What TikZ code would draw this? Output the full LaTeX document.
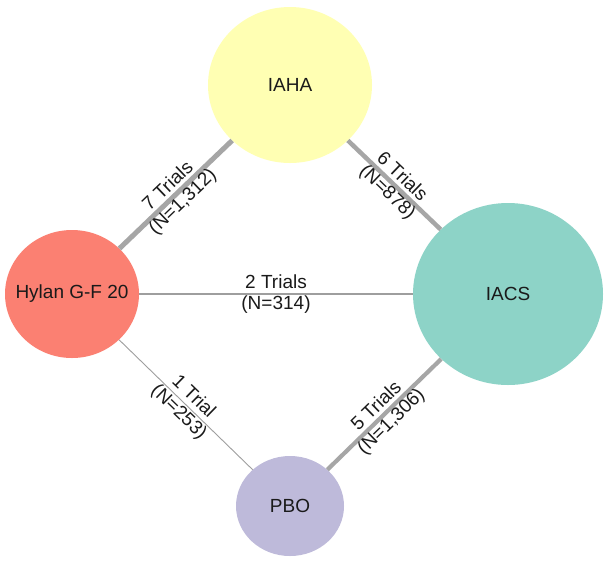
\documentclass[tikz,border=0pt]{standalone}
\usepackage{fontspec}
\setmainfont{Liberation Sans}
\usetikzlibrary{shapes.geometric}
\definecolor{cIAHA}{HTML}{FFFFB3}
\definecolor{cHylan}{HTML}{FB8072}
\definecolor{cIACS}{HTML}{8DD3C7}
\definecolor{cPBO}{HTML}{BEBADA}
\definecolor{edgegray}{HTML}{A6A6A6}
\definecolor{thingray}{HTML}{9E9E9E}
\definecolor{txt}{HTML}{1A1A1A}
\begin{document}
\begin{tikzpicture}[x=1pt,y=-1pt,
  blob/.style={ellipse, inner sep=0pt, draw=none, text=txt,
    font=\fontsize{19}{21}\selectfont},
  lbl/.style={midway, sloped, align=center, inner sep=0pt, text=txt,
    font=\fontsize{19}{21}\selectfont},
  heavy/.style={draw=edgegray, line width=#1},
  light/.style={draw=thingray, line width=#1}]
\useasboundingbox (0,0) rectangle (609,563);
\fill[white] (0,0) rectangle (609,563);

\node[blob, fill=cIAHA,  minimum width=164pt, minimum height=156pt] (iaha)  at (290,85)  {\makebox[0pt]{IAHA}};
\node[blob, fill=cHylan, minimum width=134pt, minimum height=128pt] (hylan) at (72,294)  {\makebox[0pt]{Hylan G-F 20}};
\node[blob, fill=cIACS,  minimum width=190pt, minimum height=182pt] (iacs)  at (508,294) {\makebox[0pt]{IACS}};
\node[blob, fill=cPBO,   minimum width=108pt, minimum height=100pt] (pbo)   at (290,506) {\makebox[0pt]{PBO}};

\draw[heavy=5pt]   (hylan) -- node[lbl] {7 Trials\\(N=1,312)} (iaha);
\draw[heavy=4.5pt] (iaha)  -- node[lbl] {6 Trials\\(N=878)} (iacs);
\draw[light=1.2pt] (hylan) -- node[lbl] {2 Trials\\(N=314)} (iacs);
\draw[light=0.9pt] (hylan) -- node[lbl] {1 Trial\\(N=253)} (pbo);
\draw[heavy=4.2pt] (pbo)   -- node[lbl] {5 Trials\\(N=1,306)} (iacs);
\end{tikzpicture}
\end{document}
